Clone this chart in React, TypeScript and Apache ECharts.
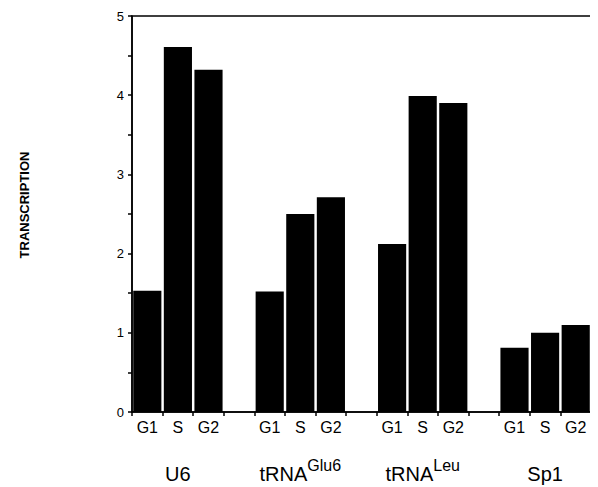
import React, { useEffect, useRef } from "react";
import * as echarts from "echarts";

const groups = ["U6", "tRNA|Glu6", "tRNA|Leu", "Sp1"];
const phases = ["G1", "S", "G2"];
const u6Values = [1.53, 4.61, 4.32];
const tGluValues = [1.52, 2.5, 2.71];
const tLeuValues = [2.12, 3.99, 3.9];
const sp1Values = [0.81, 1.0, 1.1];
const yTicks = [0, 1, 2, 3, 4, 5];
const yTitle = "TRANSCRIPTION";

export default function App() {
  const ref = useRef<HTMLDivElement>(null);
  useEffect(() => {
    if (!ref.current) return;
    const chart = echarts.init(ref.current, null, { renderer: "svg" });
    const groupValues = [u6Values, tGluValues, tLeuValues, sp1Values];
    const slots: string[] = [];
    const groupSlots: string[] = [];
    const data: (number | string)[] = [];
    groupValues.forEach((vals, gi) => {
      phases.forEach((p, pi) => {
        slots.push(p);
        groupSlots.push(pi === 1 ? groups[gi] : "");
        data.push(vals[pi]);
      });
      if (gi < groupValues.length - 1) {
        slots.push("");
        groupSlots.push("");
        data.push("-");
      }
    });
    const font = "Liberation Sans, Arial, Helvetica, sans-serif";
    chart.setOption({
      animation: false,
      backgroundColor: "#fff",
      textStyle: { fontFamily: font },
      grid: {
        left: 124,
        right: 7,
        top: 8,
        bottom: 75,
        containLabel: false,
        outerBoundsMode: "none",
        show: true,
        borderColor: "#000",
        borderWidth: 1.5,
      },
      xAxis: [
        {
          type: "category",
          data: slots,
          position: "bottom",
          axisLine: { show: true, lineStyle: { color: "#000", width: 1.5 } },
          axisTick: { show: true, interval: 0, length: 4, lineStyle: { color: "#000", width: 1.5 } },
          axisLabel: { interval: 0, color: "#000", fontSize: 16, margin: 7, fontFamily: font },
          splitLine: { show: false },
        },
        {
          type: "category",
          data: groupSlots,
          position: "bottom",
          axisLine: { show: false },
          axisTick: { show: false },
          axisLabel: {
            interval: 0,
            color: "#000",
            margin: 45,
            fontFamily: font,
            formatter: (v: string) => {
              if (!v) return "";
              const parts = v.split("|");
              if (parts.length === 2) return `{b|${parts[0]}}{s|${parts[1]}}`;
              return `{b|${v}}`;
            },
            rich: {
              b: { fontSize: 20, color: "#000", fontFamily: font, verticalAlign: "bottom", lineHeight: 27 },
              s: { fontSize: 16, color: "#000", fontFamily: font, verticalAlign: "bottom", padding: [0, 0, 11, 0], lineHeight: 16 },
            },
          },
          splitLine: { show: false },
        },
      ],
      yAxis: {
        type: "value",
        min: yTicks[0],
        max: yTicks[yTicks.length - 1],
        interval: 1,
        axisLine: { show: true, lineStyle: { color: "#000", width: 1.5 } },
        axisTick: { show: true, length: 4, lineStyle: { color: "#000", width: 1.5 } },
        minorTick: { show: true, splitNumber: 2, length: 4, lineStyle: { color: "#000", width: 1.5 } },
        axisLabel: { color: "#000", fontSize: 13, margin: 8, fontFamily: font },
        splitLine: { show: false },
      },
      graphic: [
        {
          type: "text",
          x: 16,
          y: 197,
          rotation: Math.PI / 2,
          style: {
            text: yTitle,
            fontSize: 13,
            fontWeight: "bold",
            fontFamily: font,
            fill: "#000",
            align: "center",
            verticalAlign: "middle",
          },
        },
      ],
      series: [
        {
          type: "bar",
          xAxisIndex: 0,
          data,
          barWidth: "92%",
          itemStyle: { color: "#000" },
        },
      ],
    });
    return () => chart.dispose();
  }, []);
  return <div ref={ref} style={{ width: 590, height: 479 }} />;
}
